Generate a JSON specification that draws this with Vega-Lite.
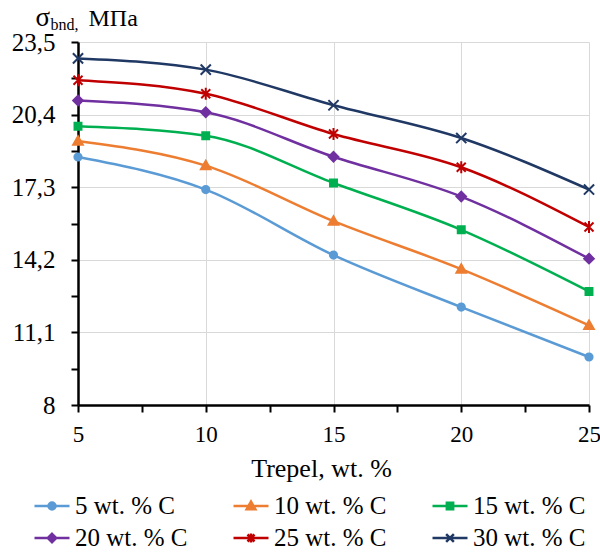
{
  "$schema": "https://vega.github.io/schema/vega-lite/v6.json",
  "autosize": {"type": "none"},
  "width": 511,
  "height": 363,
  "padding": {"left": 78, "top": 42, "right": 11, "bottom": 149},
  "background": "white",
  "config": {
    "view": {"stroke": null},
    "font": "Liberation Serif",
    "axis": {"labelFont": "Liberation Serif", "titleFont": "Liberation Serif", "labelColor": "black", "titleColor": "black", "titleFontWeight": "normal"},
    "legend": {"labelFont": "Liberation Serif"}
  },
  "data": {
    "values": [
      {"trepel": 5, "sigma": 18.59, "series": "5 wt. % C"},
      {"trepel": 10, "sigma": 17.2, "series": "5 wt. % C"},
      {"trepel": 15, "sigma": 14.4, "series": "5 wt. % C"},
      {"trepel": 20, "sigma": 12.18, "series": "5 wt. % C"},
      {"trepel": 25, "sigma": 10.05, "series": "5 wt. % C"},
      {"trepel": 5, "sigma": 19.27, "series": "10 wt. % C"},
      {"trepel": 10, "sigma": 18.22, "series": "10 wt. % C"},
      {"trepel": 15, "sigma": 15.85, "series": "10 wt. % C"},
      {"trepel": 20, "sigma": 13.8, "series": "10 wt. % C"},
      {"trepel": 25, "sigma": 11.4, "series": "10 wt. % C"},
      {"trepel": 5, "sigma": 19.9, "series": "15 wt. % C"},
      {"trepel": 10, "sigma": 19.5, "series": "15 wt. % C"},
      {"trepel": 15, "sigma": 17.48, "series": "15 wt. % C"},
      {"trepel": 20, "sigma": 15.48, "series": "15 wt. % C"},
      {"trepel": 25, "sigma": 12.85, "series": "15 wt. % C"},
      {"trepel": 5, "sigma": 21.0, "series": "20 wt. % C"},
      {"trepel": 10, "sigma": 20.5, "series": "20 wt. % C"},
      {"trepel": 15, "sigma": 18.6, "series": "20 wt. % C"},
      {"trepel": 20, "sigma": 16.9, "series": "20 wt. % C"},
      {"trepel": 25, "sigma": 14.25, "series": "20 wt. % C"},
      {"trepel": 5, "sigma": 21.87, "series": "25 wt. % C"},
      {"trepel": 10, "sigma": 21.29, "series": "25 wt. % C"},
      {"trepel": 15, "sigma": 19.57, "series": "25 wt. % C"},
      {"trepel": 20, "sigma": 18.15, "series": "25 wt. % C"},
      {"trepel": 25, "sigma": 15.6, "series": "25 wt. % C"},
      {"trepel": 5, "sigma": 22.8, "series": "30 wt. % C"},
      {"trepel": 10, "sigma": 22.32, "series": "30 wt. % C"},
      {"trepel": 15, "sigma": 20.8, "series": "30 wt. % C"},
      {"trepel": 20, "sigma": 19.4, "series": "30 wt. % C"},
      {"trepel": 25, "sigma": 17.2, "series": "30 wt. % C"}
    ]
  },
  "resolve": {
    "scale": {"fill": "independent", "stroke": "independent", "shape": "independent"},
    "axis": {"x": "independent", "y": "independent"}
  },
  "layer": [
    {
      "mark": {"type": "line", "interpolate": "monotone", "strokeWidth": 2.5},
      "encoding": {
        "x": {
          "field": "trepel", "type": "quantitative",
          "scale": {"domain": [5, 25], "nice": false, "zero": false},
          "axis": {
            "orient": "bottom",
            "values": [5, 7.5, 10, 12.5, 15, 17.5, 20, 22.5, 25],
            "labelExpr": "datum.value % 5 === 0 ? datum.label : ''",
            "grid": true, "gridColor": "#d9d9d9", "gridWidth": 1,
            "gridOpacity": {"condition": {"test": "datum.value % 5 === 0", "value": 1}, "value": 0},
            "domainColor": "black", "domainWidth": 2.5,
            "tickColor": "black", "tickWidth": 2, "tickSize": 7,
            "labelFontSize": 23, "labelPadding": 11, "labelFlush": false,
            "title": "Trepel, wt. %", "titleFontSize": 26,
            "titleX": 243, "titleY": 71, "titleBaseline": "alphabetic", "titleAlign": "center"
          }
        },
        "y": {
          "field": "sigma", "type": "quantitative",
          "scale": {"domain": [8, 23.5], "nice": false, "zero": false},
          "axis": {
            "orient": "left",
            "values": [8, 9.55, 11.1, 12.65, 14.2, 15.75, 17.3, 18.85, 20.4, 21.95, 23.5],
            "labelExpr": "indexof([8, 11.1, 14.2, 17.3, 20.4, 23.5], datum.value) >= 0 ? replace(format(datum.value, '.1~f'), '.', ',') : ''",
            "grid": true, "gridColor": "#d9d9d9", "gridWidth": 1,
            "gridOpacity": {"condition": {"test": "indexof([8, 11.1, 14.2, 17.3, 20.4, 23.5], datum.value) >= 0", "value": 1}, "value": 0},
            "domainColor": "black", "domainWidth": 2.5,
            "tickColor": "black", "tickWidth": 2, "tickSize": 7,
            "labelFontSize": 25, "labelPadding": 16, "labelFlush": false,
            "title": "σ", "titleFontSize": 27, "titleAngle": 0,
            "titleX": -43, "titleY": -17, "titleAlign": "left", "titleBaseline": "alphabetic"
          }
        },
        "stroke": {
          "field": "series", "type": "nominal",
          "scale": {"domain": ["5 wt. % C", "10 wt. % C", "15 wt. % C", "20 wt. % C", "25 wt. % C", "30 wt. % C"],
                    "range": ["#5B9BD5", "#ED7D31", "#00B050", "#7030A0", "#C00000", "#203864"]},
          "legend": null
        }
      }
    },
    {
      "mark": {"type": "point", "filled": true, "strokeWidth": 2, "size": 144, "opacity": 1},
      "encoding": {
        "x": {"field": "trepel", "type": "quantitative", "axis": null},
        "y": {"field": "sigma", "type": "quantitative", "axis": null},
        "fill": {
          "field": "series", "type": "nominal",
          "scale": {"domain": ["5 wt. % C", "10 wt. % C", "15 wt. % C", "20 wt. % C", "25 wt. % C", "30 wt. % C"],
                    "range": ["#5B9BD5", "#ED7D31", "#00B050", "#7030A0", "#C00000", "#203864"]},
          "legend": null
        },
        "stroke": {
          "field": "series", "type": "nominal",
          "scale": {"domain": ["5 wt. % C", "10 wt. % C", "15 wt. % C", "20 wt. % C", "25 wt. % C", "30 wt. % C"],
                    "range": ["#5B9BD5", "#ED7D31", "#00B050", "#7030A0", "#C00000", "#203864"]},
          "legend": null
        },
        "shape": {
          "field": "series", "type": "nominal",
          "scale": {"domain": ["5 wt. % C", "10 wt. % C", "15 wt. % C", "20 wt. % C", "25 wt. % C", "30 wt. % C"],
                    "range": [
                      "M0.6,0A0.6,0.6,0,1,1,-0.6,0A0.6,0.6,0,1,1,0.6,0Z",
                      "M0,-0.8L0.8,0.6L-0.8,0.6Z",
                      "M-0.58,-0.58H0.58V0.58H-0.58Z",
                      "M0,-0.8L0.8,0L0,0.8L-0.8,0Z",
                      "M-0.75,-0.75L0.75,0.75M-0.75,0.75L0.75,-0.75M0,-1V1",
                      "M-0.85,-0.85L0.85,0.85M-0.85,0.85L0.85,-0.85"
                    ]},
          "legend": null
        }
      }
    },
    {
      "mark": {"type": "point", "filled": true, "opacity": 0, "strokeWidth": 2.5},
      "encoding": {
        "x": {
          "field": "trepel", "type": "quantitative",
          "axis": {"orient": "top", "labels": false, "ticks": false, "domain": false, "grid": false,
                   "title": "bnd,", "titleFontSize": 16, "titleX": -28, "titleY": -13,
                   "titleAlign": "left", "titleBaseline": "alphabetic", "titleAngle": 0}
        },
        "y": {
          "field": "sigma", "type": "quantitative",
          "axis": {"orient": "right", "labels": false, "ticks": false, "domain": false, "grid": false,
                   "title": "МПа", "titleFontSize": 24, "titleX": -501, "titleY": -17,
                   "titleAlign": "left", "titleBaseline": "alphabetic", "titleAngle": 0}
        },
        "fill": {
          "field": "series", "type": "nominal",
          "scale": {"domain": ["5 wt. % C", "10 wt. % C", "15 wt. % C", "20 wt. % C", "25 wt. % C", "30 wt. % C"],
                    "range": ["#5B9BD5", "#ED7D31", "#00B050", "#7030A0", "#C00000", "#203864"]},
          "legend": {
            "title": null, "orient": "none", "legendX": -45, "legendY": 445, "direction": "horizontal", "columns": 3,
            "columnPadding": 40, "rowPadding": -10, "symbolSize": 1225, "symbolStrokeWidth": 2.5,
            "labelFontSize": 25, "labelColor": "black", "labelOffset": 4, "labelLimit": 300, "symbolOpacity": 1
          }
        },
        "stroke": {
          "field": "series", "type": "nominal",
          "scale": {"domain": ["5 wt. % C", "10 wt. % C", "15 wt. % C", "20 wt. % C", "25 wt. % C", "30 wt. % C"],
                    "range": ["#5B9BD5", "#ED7D31", "#00B050", "#7030A0", "#C00000", "#203864"]},
          "legend": {
            "title": null, "orient": "none", "legendX": -45, "legendY": 445, "direction": "horizontal", "columns": 3,
            "columnPadding": 40, "rowPadding": -10, "symbolSize": 1225, "symbolStrokeWidth": 2.5,
            "labelFontSize": 25, "labelColor": "black", "labelOffset": 4, "labelLimit": 300, "symbolOpacity": 1
          }
        },
        "shape": {
          "field": "series", "type": "nominal",
          "scale": {"domain": ["5 wt. % C", "10 wt. % C", "15 wt. % C", "20 wt. % C", "25 wt. % C", "30 wt. % C"],
                    "range": [
                      "M-1,0H1M0.2,0A0.2,0.2,0,1,1,-0.2,0A0.2,0.2,0,1,1,0.2,0Z",
                      "M-1,0H1M0,-0.25L0.25,0.19L-0.25,0.19Z",
                      "M-1,0H1M-0.18,-0.18H0.18V0.18H-0.18Z",
                      "M-1,0H1M0,-0.24L0.24,0L0,0.24L-0.24,0Z",
                      "M-1,0H1M-0.2,-0.2L0.2,0.2M-0.2,0.2L0.2,-0.2M0,-0.26V0.26",
                      "M-1,0H1M-0.22,-0.22L0.22,0.22M-0.22,0.22L0.22,-0.22"
                    ]},
          "legend": {
            "title": null, "orient": "none", "legendX": -45, "legendY": 445, "direction": "horizontal", "columns": 3,
            "columnPadding": 40, "rowPadding": -10, "symbolSize": 1225, "symbolStrokeWidth": 2.5,
            "labelFontSize": 25, "labelColor": "black", "labelOffset": 4, "labelLimit": 300, "symbolOpacity": 1
          }
        }
      }
    }
  ]
}
